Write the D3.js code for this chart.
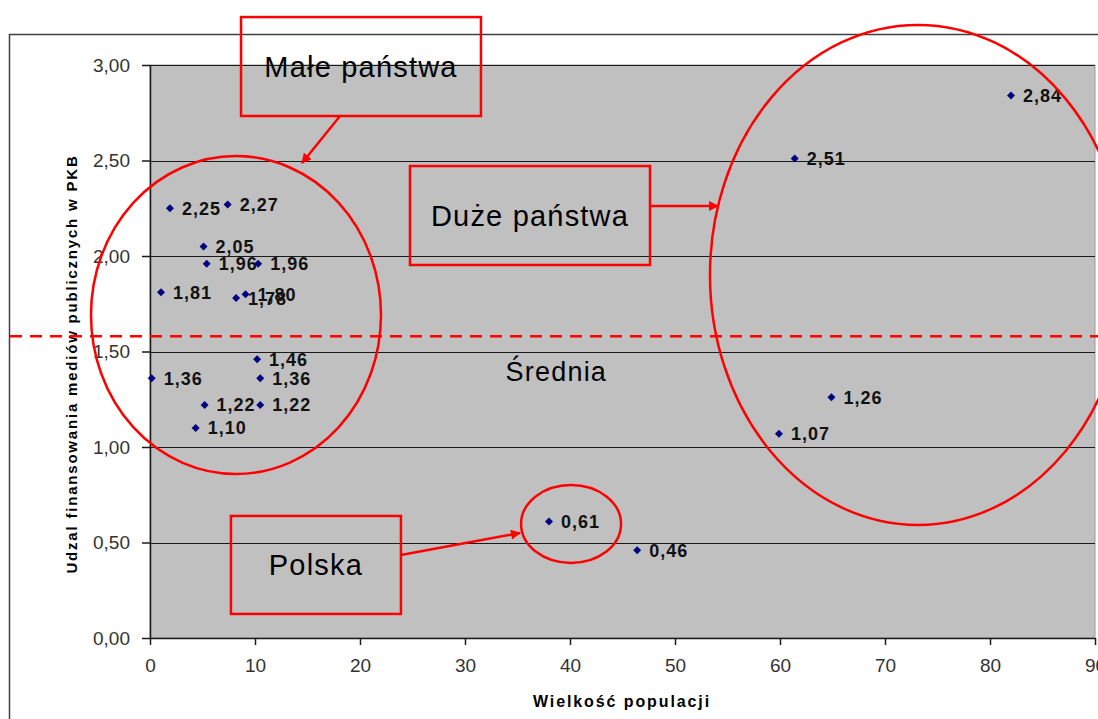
<!DOCTYPE html>
<html>
<head>
<meta charset="utf-8">
<script src="https://cdn.jsdelivr.net/npm/d3@7"></script>
<style>
  body { margin: 0; background: #fff; }
  svg { display: block; font-family: "Liberation Sans", Arial, sans-serif; }
</style>
</head>
<body>
<script>
// population (mln) and share of public media funding in GDP
var population = [82, 61.4, 64.9, 59.9, 38.0, 46.4,
    1.9, 7.4, 5.1, 5.4, 10.3, 1.05, 8.2, 9.1, 10.2, 0.16, 10.5, 5.2, 10.5, 4.35];
var share = [2.84, 2.51, 1.26, 1.07, 0.61, 0.46,
    2.25, 2.27, 2.05, 1.96, 1.96, 1.81, 1.78, 1.80, 1.46, 1.36, 1.36, 1.22, 1.22, 1.10];
var xTicks = [0, 10, 20, 30, 40, 50, 60, 70, 80, 90];
var yTicks = [0, 0.5, 1, 1.5, 2, 2.5, 3];
var average = 1.58;

var width = 1098,
    height = 719;

var get_x = d3.scaleLinear().domain([0, 90]).range([150, 1095]);
var get_y = d3.scaleLinear().domain([0, 3]).range([638, 65]);

var fmt = function(v) { return d3.format(".2f")(v).replace(".", ","); };

var svg = d3.select("body").append("svg")
    .attr("width", width)
    .attr("height", height);

var defs = svg.append("defs");
defs.append("marker")
    .attr("id", "arrow")
    .attr("viewBox", "0 0 10 10")
    .attr("refX", 9)
    .attr("refY", 5)
    .attr("markerUnits", "userSpaceOnUse")
    .attr("markerWidth", 13)
    .attr("markerHeight", 10)
    .attr("orient", "auto")
    .append("path")
    .attr("d", "M0,0 L10,5 L0,10 Z")
    .attr("fill", "#ff0000");

// outer chart frame
svg.append("path")
    .attr("d", "M9.5," + height + " V34.5 H" + width)
    .attr("fill", "none")
    .attr("stroke", "#404040")
    .attr("stroke-width", 1.5);

// plot area
svg.append("rect")
    .attr("x", get_x(0))
    .attr("y", get_y(3))
    .attr("width", get_x(90) - get_x(0))
    .attr("height", get_y(0) - get_y(3))
    .attr("fill", "#c0c0c0")
    .attr("stroke", "#9a9a9a");

svg.append("g")
    .selectAll("line")
    .data(yTicks.filter(function(d) { return d > 0; }))
    .enter().append("line")
    .attr("x1", get_x(0))
    .attr("x2", get_x(90))
    .attr("y1", function(d) { return Math.round(get_y(d)) + 0.5; })
    .attr("y2", function(d) { return Math.round(get_y(d)) + 0.5; })
    .attr("stroke", "#1a1a1a")
    .attr("stroke-width", 1.2);

var xAxis = svg.append("g")
    .attr("transform", "translate(0," + get_y(0) + ")")
    .call(d3.axisBottom(get_x).tickValues(xTicks).tickSize(7).tickSizeOuter(0).tickPadding(14).tickFormat(d3.format("d")));

var yAxis = svg.append("g")
    .attr("transform", "translate(" + get_x(0) + ",0)")
    .call(d3.axisLeft(get_y).tickValues(yTicks).tickSize(8).tickSizeOuter(0).tickPadding(12).tickFormat(fmt));

[xAxis, yAxis].forEach(function(a) {
    a.select(".domain").attr("stroke", "#1a1a1a").attr("stroke-width", 1.5);
    a.selectAll(".tick line").attr("stroke", "#1a1a1a").attr("stroke-width", 1.5);
    a.selectAll(".tick text")
        .attr("fill", "#333")
        .style("font-size", "19px")
        .style("font-family", "Liberation Sans, Arial, sans-serif");
});

svg.append("text")
    .attr("x", 622)
    .attr("y", 707)
    .attr("text-anchor", "middle")
    .style("font-size", "16px")
    .style("font-weight", "bold")
    .style("letter-spacing", "1.9px")
    .text("Wielkość populacji");

svg.append("text")
    .attr("transform", "translate(77,364) rotate(-90)")
    .attr("text-anchor", "middle")
    .style("font-size", "15px")
    .style("font-weight", "bold")
    .style("letter-spacing", "1.8px")
    .text("Udzal finansowania mediów publicznych w PKB");

// average line
svg.append("line")
    .attr("x1", 10)
    .attr("x2", width)
    .attr("y1", get_y(average))
    .attr("y2", get_y(average))
    .attr("stroke", "#ff0000")
    .attr("stroke-width", 2.5)
    .attr("stroke-dasharray", "12,8");

svg.append("text")
    .attr("x", get_x(38.7))
    .attr("y", get_y(1.393))
    .attr("dy", "0.35em")
    .attr("text-anchor", "middle")
    .style("font-size", "27px")
    .style("letter-spacing", "1.2px")
    .text("Średnia");

// points
var points = d3.range(population.length).map(function(i) {
    return { x: population[i], y: share[i] };
});

var pt = svg.append("g").selectAll("g")
    .data(points)
    .enter().append("g")
    .attr("transform", function(d) {
        return "translate(" + get_x(d.x) + "," + get_y(d.y) + ")";
    });

pt.append("path")
    .attr("d", "M0,-4 L4,0 L0,4 L-4,0 Z")
    .attr("fill", "#000080");

pt.append("text")
    .attr("x", 12)
    .attr("dy", "0.36em")
    .style("font-size", "18px")
    .style("font-weight", "bold")
    .style("letter-spacing", "1px")
    .attr("fill", "#111")
    .text(function(d) { return fmt(d.y); });

// annotations (in data units)
var ellipses = [
    { cx: 8.19, cy: 1.691, rx: 13.81, ry: 0.832 },
    { cx: 73.14, cy: 1.901, rx: 19.81, ry: 1.309 },
    { cx: 40.1, cy: 0.597, rx: 4.76, ry: 0.204 }
];
var boxes = [
    { x0: 8.67, x1: 31.52, y0: 3.251, y1: 2.733, label: "Małe państwa" },
    { x0: 24.76, x1: 47.62, y0: 2.471, y1: 1.953, label: "Duże państwa" },
    { x0: 7.71, x1: 23.9, y0: 0.639, y1: 0.126, label: "Polska" }
];
var arrows = [
    { x0: 18.1, y0: 2.733, x1: 14.48, y1: 2.487 },
    { x0: 47.62, y0: 2.262, x1: 54.1, y1: 2.262 },
    { x0: 23.9, y0: 0.435, x1: 35.24, y1: 0.55 }
];

var ann = svg.append("g")
    .attr("fill", "none")
    .attr("stroke", "#ff0000")
    .attr("stroke-width", 2.5);

ann.selectAll("ellipse")
    .data(ellipses)
    .enter().append("ellipse")
    .attr("cx", function(d) { return get_x(d.cx); })
    .attr("cy", function(d) { return get_y(d.cy); })
    .attr("rx", function(d) { return get_x(d.rx) - get_x(0); })
    .attr("ry", function(d) { return get_y(0) - get_y(d.ry); });

ann.selectAll("rect")
    .data(boxes)
    .enter().append("rect")
    .attr("x", function(d) { return get_x(d.x0); })
    .attr("y", function(d) { return get_y(d.y0); })
    .attr("width", function(d) { return get_x(d.x1) - get_x(d.x0); })
    .attr("height", function(d) { return get_y(d.y1) - get_y(d.y0); });

ann.selectAll("line")
    .data(arrows)
    .enter().append("line")
    .attr("x1", function(d) { return get_x(d.x0); })
    .attr("y1", function(d) { return get_y(d.y0); })
    .attr("x2", function(d) { return get_x(d.x1); })
    .attr("y2", function(d) { return get_y(d.y1); })
    .attr("marker-end", "url(#arrow)");

svg.append("g").selectAll("text")
    .data(boxes)
    .enter().append("text")
    .attr("x", function(d) { return (get_x(d.x0) + get_x(d.x1)) / 2; })
    .attr("y", function(d) { return (get_y(d.y0) + get_y(d.y1)) / 2; })
    .attr("dy", "0.35em")
    .attr("text-anchor", "middle")
    .style("font-size", "29px")
    .style("letter-spacing", "1.2px")
    .attr("fill", "#000")
    .text(function(d) { return d.label; });
</script>
</body>
</html>
